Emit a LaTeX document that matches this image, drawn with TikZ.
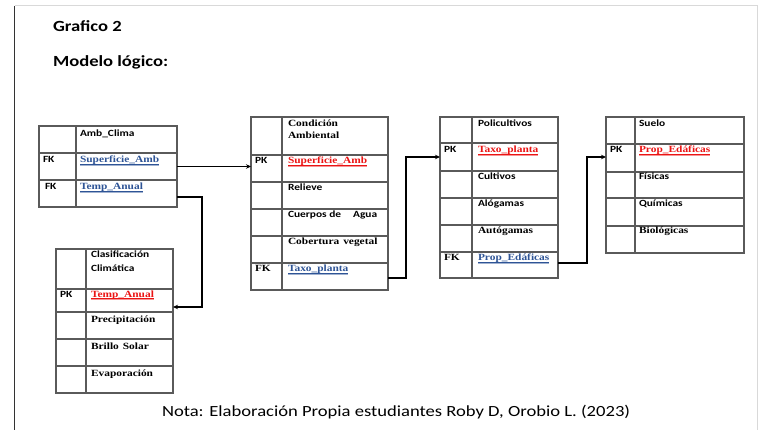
\documentclass[tikz,border=0pt]{standalone}
\usepackage{fontspec}
\usetikzlibrary{arrows.meta}
\newfontfamily\calf{Carlito}[FakeStretch=1.2]
\newfontfamily\tnrf{Liberation Serif}[FakeStretch=1.2]
\newcommand\cb{\calf\bfseries\fontsize{9.5}{11}\selectfont}
\newcommand\tb{\tnrf\bfseries\fontsize{9.5}{11}\selectfont}
\definecolor{keyblue}{RGB}{46,84,150}
\definecolor{keyred}{RGB}{235,20,20}
\definecolor{tabgray}{RGB}{90,90,90}
\newcommand\keyul[2]{\sbox0{\color{#1}#2}\rlap{\color{#1!45}\rule[-2.6pt]{\wd0}{1.6pt}}\rlap{\color{#1}\rule[-1.8pt]{\wd0}{0.7pt}}\usebox0}
\tikzset{
  rowbox/.style={draw=tabgray, line width=1.1pt, inner sep=0pt, outer sep=0pt, anchor=north west},
  tline/.style={draw=tabgray, line width=1.1pt},
  txt/.style={anchor=base west, inner sep=0pt, outer sep=0pt},
  conn/.style={draw=black, line width=1.4pt, -{Stealth[length=5pt,width=4.5pt]}},
}
\begin{document}
\begin{tikzpicture}[x=1pt,y=-1pt]
\useasboundingbox (0,0) rectangle (765,430);
% page border
\draw[draw=black!15, line width=1pt] (14.5,6) -- (757,6) -- (757,430);
\draw[draw=black!80, line width=1.6pt] (14.5,6) -- (14.5,430);
% titles
\node[txt] (t1) at (53,32) {\calf\bfseries\fontsize{15.5}{18}\selectfont Grafico 2};
\node[txt] (t2) at (53,67) {\calf\bfseries\fontsize{15.5}{18}\selectfont Modelo lógico:};
\node[txt] (nota) at (162,416) {\calf\fontsize{15.5}{18}\selectfont Nota: Elaboración Propia estudiantes Roby D, Orobio L. (2023)};
% ---------- Table A: Amb_Clima
\foreach \t/\b [count=\i] in {126/153,153/180,180/207}
  \node[rowbox, minimum width=138pt, minimum height={(\b-\t)*1pt}] (a\i) at (39,\t) {};
\draw[tline] (76,126) -- (76,207);
\node[txt] (a1t) at (80,137) {\cb Amb\_Clima};
\node[txt] (a2k) at (43,163) {\cb FK};
\node[txt] (a2t) at (80,163) {\tb\keyul{keyblue}{Superficie\_Amb}};
\node[txt] (a3k) at (45,190) {\cb FK};
\node[txt] (a3t) at (80,190) {\tb\keyul{keyblue}{Temp\_Anual}};
% ---------- Table B: Clasificacion Climatica
\foreach \t/\b [count=\i] in {249/289,289/312,312/339,339/366,366/393}
  \node[rowbox, minimum width=117pt, minimum height={(\b-\t)*1pt}] (b\i) at (56,\t) {};
\draw[tline] (86,249) -- (86,393);
\node[txt] (b1t) at (91,258) {\cb Clasificación};
\node[txt] (b1u) at (91,272) {\cb Climática};
\node[txt] (b2k) at (60,297) {\cb PK};
\node[txt] (b2t) at (91,297) {\tb\keyul{keyred}{Temp\_Anual}};
\node[txt] (b3t) at (91,322) {\tb Precipitación};
\node[txt] (b4t) at (91,349) {\tb Brillo\hspace{4pt}Solar};
\node[txt] (b5t) at (91,376) {\tb Evaporación};
% ---------- Table C: Condicion Ambiental
\foreach \t/\b [count=\i] in {117/155,155/182,182/209,209/236,236/263,263/290}
  \node[rowbox, minimum width=137pt, minimum height={(\b-\t)*1pt}] (c\i) at (251,\t) {};
\draw[tline] (282,117) -- (282,290);
\node[txt] (c1t) at (288,127) {\tb Condición};
\node[txt] (c1u) at (288,139) {\tb Ambiental};
\node[txt] (c2k) at (255,164) {\cb PK};
\node[txt] (c2t) at (288,164) {\tb\keyul{keyred}{Superficie\_Amb}};
\node[txt] (c3t) at (288,191) {\cb Relieve};
\node[txt] (c4t) at (288,218) {\cb Cuerpos de\hspace{12pt}Agua};
\node[txt] (c5t) at (288,245) {\tb Cobertura\hspace{4pt}vegetal};
\node[txt] (c6k) at (255,272) {\tb FK};
\node[txt] (c6t) at (288,272) {\tb\keyul{keyblue}{Taxo\_planta}};
% ---------- Table D: Policultivos
\foreach \t/\b [count=\i] in {117/143,143/171,171/198,198/225,225/252,252/278}
  \node[rowbox, minimum width=118pt, minimum height={(\b-\t)*1pt}] (d\i) at (440,\t) {};
\draw[tline] (472,117) -- (472,278);
\node[txt] (d1t) at (478,127) {\cb Policultivos};
\node[txt] (d2k) at (444,153) {\cb PK};
\node[txt] (d2t) at (478,153) {\tb\keyul{keyred}{Taxo\_planta}};
\node[txt] (d3t) at (478,180) {\cb Cultivos};
\node[txt] (d4t) at (478,207) {\cb Alógamas};
\node[txt] (d5t) at (478,234) {\tb Autógamas};
\node[txt] (d6k) at (444,261) {\tb FK};
\node[txt] (d6t) at (478,261) {\tb\keyul{keyblue}{Prop\_Edáficas}};
% ---------- Table E: Suelo
\foreach \t/\b [count=\i] in {117/144,144/172,172/198,198/226,226/253}
  \node[rowbox, minimum width=138pt, minimum height={(\b-\t)*1pt}] (e\i) at (606,\t) {};
\draw[tline] (635,117) -- (635,253);
\node[txt] (e1t) at (639,127) {\cb Suelo};
\node[txt] (e2k) at (610,153) {\cb PK};
\node[txt] (e2t) at (639,153) {\tb\keyul{keyred}{Prop\_Edáficas}};
\node[txt] (e3t) at (639,180) {\cb Físicas};
\node[txt] (e4t) at (639,207) {\cb Químicas};
\node[txt] (e5t) at (639,234) {\tb Biológicas};
% ---------- connectors
\draw[conn] (a2.east) -- (a2.east -| c2.west);
\coordinate (j1) at (202,197);
\coordinate (j2) at (202,307);
\draw[conn] (a3.east |- j1) -- (j1) -- (j2) -- (j2 -| b2.east);
\coordinate (j3) at (406,278);
\coordinate (j4) at (406,157);
\draw[conn] (c6.east |- j3) -- (j3) -- (j4) -- (j4 -| d2.west);
\coordinate (j5) at (587,263);
\coordinate (j6) at (587,157);
\draw[conn] (d6.east |- j5) -- (j5) -- (j6) -- (j6 -| e2.west);
\end{tikzpicture}
\end{document}
